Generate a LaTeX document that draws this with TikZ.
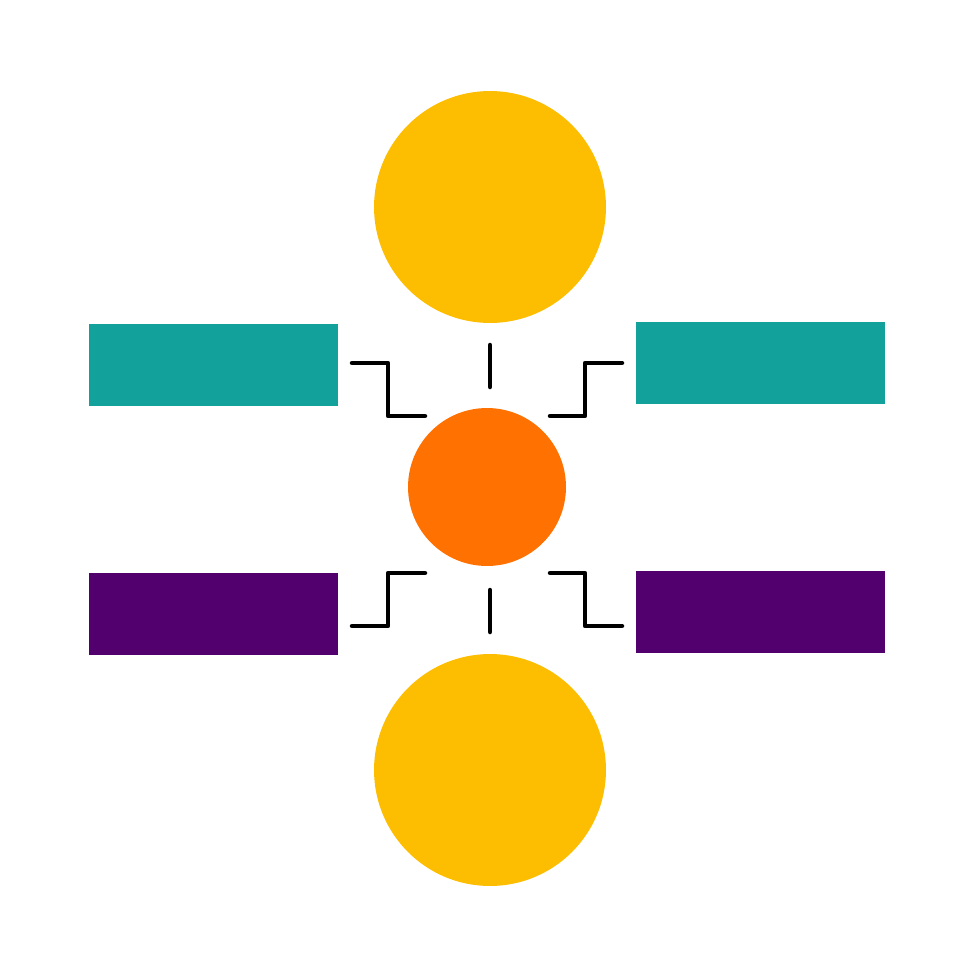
\documentclass[tikz,border=0pt]{standalone}
\begin{document}
\begin{tikzpicture}[x=0.02cm,y=-0.02cm,
  box/.style={draw=none,rectangle,minimum width=4.98cm,minimum height=1.64cm,inner sep=0pt},
  disc/.style={draw=none,circle,inner sep=0pt},
  conn/.style={line width=0.09cm,line cap=round,line join=round,black}]
\definecolor{sun}{HTML}{FDBE02}
\definecolor{tealc}{HTML}{13A19B}
\definecolor{plum}{HTML}{52006E}
\definecolor{flame}{HTML}{FF7100}
\useasboundingbox (0,0) rectangle (980,980);
\fill[white] (0,0) rectangle (980,980);
\node[disc,fill=sun,minimum size=4.64cm] (top) at (490,207) {};
\node[disc,fill=sun,minimum size=4.64cm] (bot) at (490,770) {};
\node[disc,fill=flame,minimum size=3.16cm] (mid) at (487,487) {};
\node[box,fill=tealc] (tl) at (213.5,365) {};
\node[box,fill=tealc] (tr) at (760.5,363) {};
\node[box,fill=plum] (bl) at (213.5,614) {};
\node[box,fill=plum] (br) at (760.5,612) {};
% connector end points
\coordinate (a1) at (352,363); \coordinate (a2) at (425,416);
\coordinate (b1) at (490,345); \coordinate (b2) at (490,387);
\coordinate (c1) at (550,416); \coordinate (c2) at (622,363);
\coordinate (d1) at (352,626); \coordinate (d2) at (425,573);
\coordinate (e1) at (490,590); \coordinate (e2) at (490,632);
\coordinate (f1) at (550,573); \coordinate (f2) at (622,626);
\draw[conn] (a1) -- (388,363) -- (388,416) -- (a2);
\draw[conn] (b1) -- (b2);
\draw[conn] (c1) -- (585,416) -- (585,363) -- (c2);
\draw[conn] (d1) -- (388,626) -- (388,573) -- (d2);
\draw[conn] (e1) -- (e2);
\draw[conn] (f1) -- (585,573) -- (585,626) -- (f2);
\end{tikzpicture}
\end{document}
